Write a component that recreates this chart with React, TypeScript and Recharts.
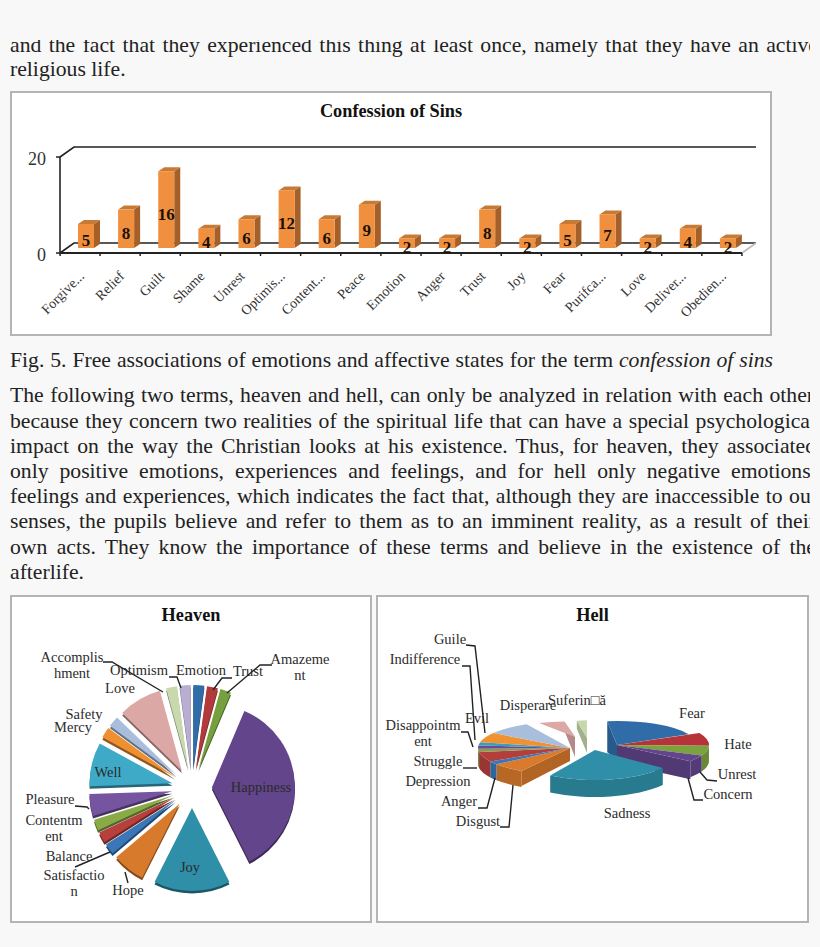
import React from 'react';
import { BarChart, Bar, XAxis, YAxis, LabelList, PieChart, Pie, Cell } from 'recharts';

const FONT = '"Liberation Serif", "Times New Roman", serif';
const INK = '#222';

const sinCategories = ['Forgive...', 'Relief', 'Guilt', 'Shame', 'Unrest', 'Optimis...', 'Content...', 'Peace', 'Emotion', 'Anger', 'Trust', 'Joy', 'Fear', 'Purifca...', 'Love', 'Deliver...', 'Obedien...'];
const sinValues = [5, 8, 16, 4, 6, 12, 6, 9, 2, 2, 8, 2, 5, 7, 2, 4, 2];
const sinTicks = [0, 20];

const heavenNames = ['Emotion', 'Trust', 'Amazement', 'Happiness', 'Joy', 'Hope', 'Satisfaction', 'Balance', 'Contentment', 'Pleasure', 'Well', 'Mercy', 'Safety', 'Love', 'Accomplishment', 'Optimism'];
const heavenValues = [1, 1, 1, 17, 7, 3, 1, 1, 1, 2, 4, 1, 1, 4, 1, 1];
const heavenColors = ['#2f6ca8', '#b23a3a', '#76a03e', '#63458c', '#2f8fa8', '#d87a2c', '#3a77b8', '#b8403c', '#8aaa48', '#7655a0', '#3faac8', '#ee8f30', '#a9bddc', '#dba8a6', '#c8d9ae', '#b9aed2'];

const hellNames = ['Fear', 'Hate', 'Unrest', 'Concern', 'Sadness', 'Disgust', 'Anger', 'Depression', 'Struggle', 'Disappointment', 'Evil', 'Indifference', 'Guile', 'Disperare', 'Suferință'];
const hellValues = [10, 4, 3, 2, 12, 3, 1, 3, 1, 1, 1, 3, 4, 2, 1];
const hellColors = ['#2f6ca8', '#b5343a', '#7aa23f', '#63458c', '#2f8fa8', '#d97a2c', '#3a77b8', '#b33f3c', '#8c9c4a', '#6b4a9a', '#3a9dbb', '#f0922f', '#a9bddc', '#dba8a6', '#c6d7ad'];

// page text, one entry per printed line
const topLines = ['and the fact that they experienced this thing at least once, namely that they have an active', 'religious life.'];
const bodyLines = [
  'The following two terms, heaven and hell, can only be analyzed in relation with each other',
  'because they concern two realities of the spiritual life that can have a special psychological',
  'impact on the way the Christian looks at his existence. Thus, for heaven, they associated',
  'only positive emotions, experiences and feelings, and for hell only negative emotions,',
  'feelings and experiences, which indicates the fact that, although they are inaccessible to our',
  'senses, the pupils believe and refer to them as to an imminent reality, as a result of their',
  'own acts. They know the importance of these terms and believe in the existence of the',
  'afterlife.',
];
const bodyTops = [383, 409, 434, 459, 484, 509, 535, 560];
const bodyWidths = [804, 806, 806, 806, 808, 806, 806, 806];

// label placement for the pies, page coordinates
const heavenLabels = [
  { lines: ['Accomplis', 'hment'], x: 72, y: 662 },
  { lines: ['Optimism'], x: 139, y: 675 },
  { lines: ['Emotion'], x: 201, y: 675 },
  { lines: ['Trust'], x: 248, y: 676 },
  { lines: ['Amazeme', 'nt'], x: 300, y: 664 },
  { lines: ['Love'], x: 120, y: 693 },
  { lines: ['Safety'], x: 84, y: 719 },
  { lines: ['Mercy'], x: 73, y: 732 },
  { lines: ['Well'], x: 108, y: 777 },
  { lines: ['Pleasure'], x: 50, y: 804 },
  { lines: ['Contentm', 'ent'], x: 54, y: 825 },
  { lines: ['Balance'], x: 69, y: 861 },
  { lines: ['Satisfactio', 'n'], x: 74, y: 880 },
  { lines: ['Hope'], x: 128, y: 895 },
  { lines: ['Joy'], x: 190, y: 872 },
  { lines: ['Happiness'], x: 261, y: 792 },
];
const heavenLeaders = [
  '103,662 112,662 163,692',
  '169,677 177,677 181,688',
  '232,678 222,678 213,690',
  '272,665 260,665 227,693',
  '75,806 87,807 89,809',
  '75,867 110,852',
  '125,872 128,883',
];
const hellLabels = [
  { lines: ['Guile'], x: 450, y: 644 },
  { lines: ['Indifference'], x: 425, y: 664 },
  { lines: ['Disappointm', 'ent'], x: 423, y: 730 },
  { lines: ['Evil'], x: 477, y: 723 },
  { lines: ['Disperare'], x: 528, y: 710 },
  { lines: ['Suferin□ă'], x: 577, y: 705 },
  { lines: ['Fear'], x: 692, y: 718 },
  { lines: ['Hate'], x: 738, y: 749 },
  { lines: ['Unrest'], x: 737, y: 779 },
  { lines: ['Concern'], x: 728, y: 799 },
  { lines: ['Sadness'], x: 627, y: 818 },
  { lines: ['Disgust'], x: 478, y: 826 },
  { lines: ['Anger'], x: 459, y: 806 },
  { lines: ['Depression'], x: 438, y: 786 },
  { lines: ['Struggle'], x: 438, y: 766 },
];
const hellLeaders = [
  '466,645 475,646 485,733',
  '462,666 470,666 475,740',
  '461,732 468,732 473,747',
  '463,768 477,768',
  '478,808 487,808 495,778',
  '500,827 509,827 513,785',
  '717,781 707,780 700,772',
  '703,800 694,800 688,778',
];

// where each hell slice sits relative to the pie centre, and how it looks in perspective
const hellGeometry = [
  { dx: 25, dy: -1, rx: 80, ry: 24, edge: 'start', rimDrop: 31, apexDrop: 14 },
  { dx: 25, dy: -1, rx: 92, ry: 27 },
  { dx: 25, dy: -1, rx: 92, ry: 27 },
  { dx: 25, dy: -1, rx: 92, ry: 27, edge: 'end', rimDrop: 18, apexDrop: 18 },
  { dx: 3, dy: 4, rx: 85, ry: 30, wall: 17 },
  { dx: -22, dy: 2, rx: 92, ry: 27, edge: 'start', rimDrop: 15, apexDrop: 13 },
  { dx: -22, dy: 2, rx: 92, ry: 27 },
  { dx: -22, dy: 2, rx: 92, ry: 27 },
  { dx: -22, dy: 2, rx: 92, ry: 27 },
  { dx: -22, dy: 2, rx: 92, ry: 27 },
  { dx: -22, dy: 2, rx: 92, ry: 27 },
  { dx: -22, dy: 2, rx: 92, ry: 27 },
  { dx: -22, dy: 2, rx: 92, ry: 27 },
  { dx: -1, dy: -9, rx: 110, ry: 16, apexDx: -16, edge: 'end', rimDrop: 9, apexDrop: 20 },
  { dx: 5, dy: -1, rx: 83, ry: 25, apexDx: -10, apexDy: -7, edge: 'start', rimDrop: 8, apexDrop: 15 },
];

const sinData = sinCategories.map((name, i) => ({ name, value: sinValues[i] }));
const heavenData = heavenNames.map((name, i) => ({ name, value: heavenValues[i] }));
const hellData = hellNames.map((name, i) => ({ name, value: hellValues[i] }));

const RAD = Math.PI / 180;
const NO_MARGIN = { top: 0, right: 0, bottom: 0, left: 0 };

const shade = (hex: string, f: number) => {
  const n = parseInt(hex.slice(1), 16);
  const ch = (v: number) => Math.round(v * f).toString(16).padStart(2, '0');
  return `#${ch((n >> 16) & 255)}${ch((n >> 8) & 255)}${ch(n & 255)}`;
};

// 3D look of the column chart
const BAR_DX = 6;
const BAR_DY = -5;
const DEPTH_X = 6;
const DEPTH_Y = -4;

const Bar3D = (props: any) => {
  const { x, y, width, height } = props;
  const l = x + BAR_DX;
  const r = l + width;
  const t = y + BAR_DY;
  const b = t + height;
  return (
    <g>
      <polygon points={`${r},${t} ${r + DEPTH_X},${t + DEPTH_Y} ${r + DEPTH_X},${b + DEPTH_Y} ${r},${b}`} fill="#a5602a" />
      <polygon points={`${l},${t} ${l + DEPTH_X},${t + DEPTH_Y} ${r + DEPTH_X},${t + DEPTH_Y} ${r},${t}`} fill="#c77a33" />
      <rect x={l} y={t} width={width} height={height} fill="#f0903f" />
    </g>
  );
};

const BarValue = (props: any) => {
  const { x, y, width, height, value } = props;
  return (
    <text x={x + BAR_DX + width / 2} y={y + BAR_DY + height / 2 + 10} textAnchor="middle" fontFamily={FONT} fontWeight="bold" fontSize={17} fill="#1a1208">
      {value}
    </text>
  );
};

const SinTick = (props: any) => {
  const { x, y, payload, index } = props;
  return (
    <g>
      {index === 0 && <line x1={x - 20} x2={x - 20} y1={253} y2={256} stroke="#222" strokeWidth={1.5} />}
      <line x1={x + 20} x2={x + 20} y1={253} y2={256} stroke="#222" strokeWidth={1.5} />
      <text
        x={x + 5}
        y={y + 16}
        textAnchor="end"
        transform={`rotate(-45 ${x + 5} ${y + 16})`}
        fontFamily={FONT}
        fontSize={14}
        fill="#333"
      >
        {payload.value}
      </text>
    </g>
  );
};

const ValueTick = (props: any) => {
  const { y, payload } = props;
  return (
    <g>
      <line x1={56} x2={60} y1={y} y2={y} stroke="#222" strokeWidth={1.5} />
      <text x={46} y={y + 8} textAnchor="end" fontFamily={FONT} fontSize={18} fill="#333">
        {payload.value}
      </text>
    </g>
  );
};

// flat exploded slice with a thin darker rim under it
const HEAVEN_EXPLODE = 20;

const HeavenSlice = (props: any) => {
  const { cx, cy, outerRadius, startAngle, endAngle, fill } = props;
  const mid = ((startAngle + endAngle) / 2) * RAD;
  const ox = cx + HEAVEN_EXPLODE * Math.cos(mid);
  const oy = cy - HEAVEN_EXPLODE * Math.sin(mid);
  const p = (a: number) => `${ox + outerRadius * Math.cos(a * RAD)},${oy - outerRadius * Math.sin(a * RAD)}`;
  const large = Math.abs(startAngle - endAngle) > 180 ? 1 : 0;
  const d = `M${ox},${oy} L${p(startAngle)} A${outerRadius},${outerRadius} 0 ${large} 1 ${p(endAngle)} Z`;
  return (
    <g>
      <path d={d} fill={shade(fill, 0.6)} transform="translate(0,2.5)" />
      <path d={d} fill={fill} />
    </g>
  );
};

// perspective slice: an elliptical top face, an outer wall and optionally a cut face
const HELL_WALL = 16;

const HellSlice = (props: any) => {
  const { cx, cy, startAngle, endAngle, fill, index } = props;
  const g: any = hellGeometry[index];
  const ax = cx + g.dx;
  const ay = cy + g.dy;
  const a = 90 - startAngle;
  const b = 90 - endAngle;
  const rim = (t: number, drop = 0): [number, number] => [ax + g.rx * Math.sin(t * RAD), ay - g.ry * Math.cos(t * RAD) + drop];
  const arc = (to: [number, number], sweep: number, large = 0) => `A${g.rx},${g.ry} 0 ${large} ${sweep} ${to[0]},${to[1]}`;
  const h = g.wall ?? HELL_WALL;
  const px = ax + (g.apexDx ?? 0);
  const py = ay + (g.apexDy ?? 0);

  const wallFrom = Math.max(a, 90);
  const wallTo = Math.min(b, 270);
  const hasWall = wallTo > wallFrom;
  const w0 = rim(wallFrom);
  const w1 = rim(wallTo);
  const w2 = rim(wallTo, h);
  const w3 = rim(wallFrom, h);

  const s = rim(a);
  const e = rim(b);
  const cutAt = g.edge === 'start' ? s : e;

  return (
    <g>
      {g.edge && (
        <polygon
          points={`${cutAt[0]},${cutAt[1]} ${px},${py} ${px},${py + g.apexDrop} ${cutAt[0]},${cutAt[1] + g.rimDrop}`}
          fill={shade(fill, 0.82)}
        />
      )}
      {hasWall && (
        <path d={`M${w0[0]},${w0[1]} ${arc(w1, 1)} L${w2[0]},${w2[1]} ${arc(w3, 0)} Z`} fill={shade(fill, 0.85)} />
      )}
      <path d={`M${px},${py} L${s[0]},${s[1]} ${arc(e, 1, b - a > 180 ? 1 : 0)} Z`} fill={fill} />
    </g>
  );
};

const PieText = ({ labels, leaders }: { labels: { lines: string[]; x: number; y: number }[]; leaders: string[] }) => (
  <svg width={820} height={947} style={{ position: 'absolute', left: 0, top: 0 }}>
    {leaders.map((pts) => (
      <polyline key={pts} points={pts} fill="none" stroke="#222" strokeWidth={1.4} />
    ))}
    {labels.map((l) => (
      <text key={l.lines[0]} x={l.x} y={l.y} textAnchor="middle" fontFamily={FONT} fontSize={14.5} fill="#2b2b2b">
        {l.lines.map((line, i) => (
          <tspan key={line} x={l.x} dy={i === 0 ? 0 : 16}>
            {line}
          </tspan>
        ))}
      </text>
    ))}
  </svg>
);

const TextLine = ({ top, left = 10, width = 806, justify = true, children }: any) => (
  <div
    style={{
      position: 'absolute',
      top,
      left,
      width,
      height: 25,
      lineHeight: '25px',
      overflow: 'hidden',
      fontFamily: FONT,
      fontSize: 21.7,
      color: INK,
      textAlign: justify ? 'justify' : 'left',
      textAlignLast: justify ? 'justify' : 'left',
    }}
  >
    {children}
  </div>
);

const frame = (left: number, top: number, width: number, height: number): React.CSSProperties => ({
  position: 'absolute',
  left,
  top,
  width,
  height,
  boxSizing: 'border-box',
  background: '#fff',
  border: '2px solid #b4b4b4',
});

const chartLayer: React.CSSProperties = { position: 'absolute', left: 0, top: 0 };

const titleStyle = (left: number, top: number, width: number): React.CSSProperties => ({
  position: 'absolute',
  left,
  top,
  width,
  textAlign: 'center',
  fontFamily: FONT,
  fontWeight: 'bold',
  fontSize: 18.3,
  color: '#111',
});

export default function App() {
  return (
    <div style={{ position: 'absolute', left: 0, top: 0, width: 820, height: 947, background: '#f8f8f8', overflow: 'hidden' }}>
      {/* first printed line is cut at the top of the page image */}
      <div style={{ position: 'absolute', left: 0, top: 40, width: 810, height: 46, overflow: 'hidden' }}>
        <div style={{ position: 'absolute', left: 0, top: -7, width: 820, height: 60 }}>
          <TextLine top={0} width={808}>{topLines[0]}</TextLine>
          <TextLine top={24} justify={false}>{topLines[1]}</TextLine>
        </div>
      </div>

      <div style={frame(10, 91, 762, 245)} />
      <div style={titleStyle(10, 101, 762)}>Confession of Sins</div>

      <TextLine top={348} width={763}>
        Fig. 5. Free associations of emotions and affective states for the term <i>confession of sins</i>
      </TextLine>

      <div style={{ position: 'absolute', left: 0, top: 0, width: 810, height: 947, overflow: 'hidden' }}>
        {bodyLines.map((line, i) => (
          <TextLine key={line} top={bodyTops[i]} width={bodyWidths[i]} justify={i < bodyLines.length - 1}>
            {line}
          </TextLine>
        ))}
      </div>

      <div style={frame(10, 595, 362, 328)} />
      <div style={titleStyle(10, 605, 362)}>Heaven</div>
      <div style={frame(376, 595, 433, 328)} />
      <div style={titleStyle(376, 605, 433)}>Hell</div>

      <div style={chartLayer}>
        <BarChart width={820} height={350} data={sinData} margin={{ top: 157, right: 78, bottom: 37, left: 20 }} barSize={16}>
          <g fill="none" stroke="#222" strokeWidth={1.6}>
            <polyline points="60,157 74,147 756,147" />
            <polyline points="60,253 74,243 756,243" />
            <line x1={756} y1={243} x2={742} y2={253} stroke="#bbb" />
          </g>
          <XAxis dataKey="name" interval={0} height={60} tickLine={false} axisLine={{ stroke: '#222', strokeWidth: 1.8 }} tick={<SinTick />} />
          <YAxis width={40} domain={[0, 20]} ticks={sinTicks} tickLine={false} axisLine={{ stroke: '#222', strokeWidth: 1.6 }} tick={<ValueTick />} />
          <Bar dataKey="value" isAnimationActive={false} shape={<Bar3D />}>
            <LabelList dataKey="value" content={<BarValue />} />
          </Bar>
        </BarChart>
      </div>

      <div style={chartLayer}>
        <PieChart width={820} height={947} margin={NO_MARGIN}>
          <Pie
            data={heavenData}
            dataKey="value"
            nameKey="name"
            cx={192}
            cy={788}
            innerRadius={0}
            outerRadius={83}
            startAngle={90}
            endAngle={-270}
            stroke="none"
            isAnimationActive={false}
            label={false}
            labelLine={false}
            shape={<HeavenSlice />}
          >
            {heavenColors.map((c) => (
              <Cell key={c} fill={c} />
            ))}
          </Pie>
        </PieChart>
      </div>
      <PieText labels={heavenLabels} leaders={heavenLeaders} />

      <div style={chartLayer}>
        <PieChart width={820} height={947} margin={NO_MARGIN}>
          <Pie
            data={hellData}
            dataKey="value"
            nameKey="name"
            cx={592}
            cy={746}
            innerRadius={0}
            outerRadius={90}
            startAngle={97}
            endAngle={-263}
            stroke="none"
            isAnimationActive={false}
            label={false}
            labelLine={false}
            shape={<HellSlice />}
          >
            {hellColors.map((c) => (
              <Cell key={c} fill={c} />
            ))}
          </Pie>
        </PieChart>
      </div>
      <PieText labels={hellLabels} leaders={hellLeaders} />
    </div>
  );
}
